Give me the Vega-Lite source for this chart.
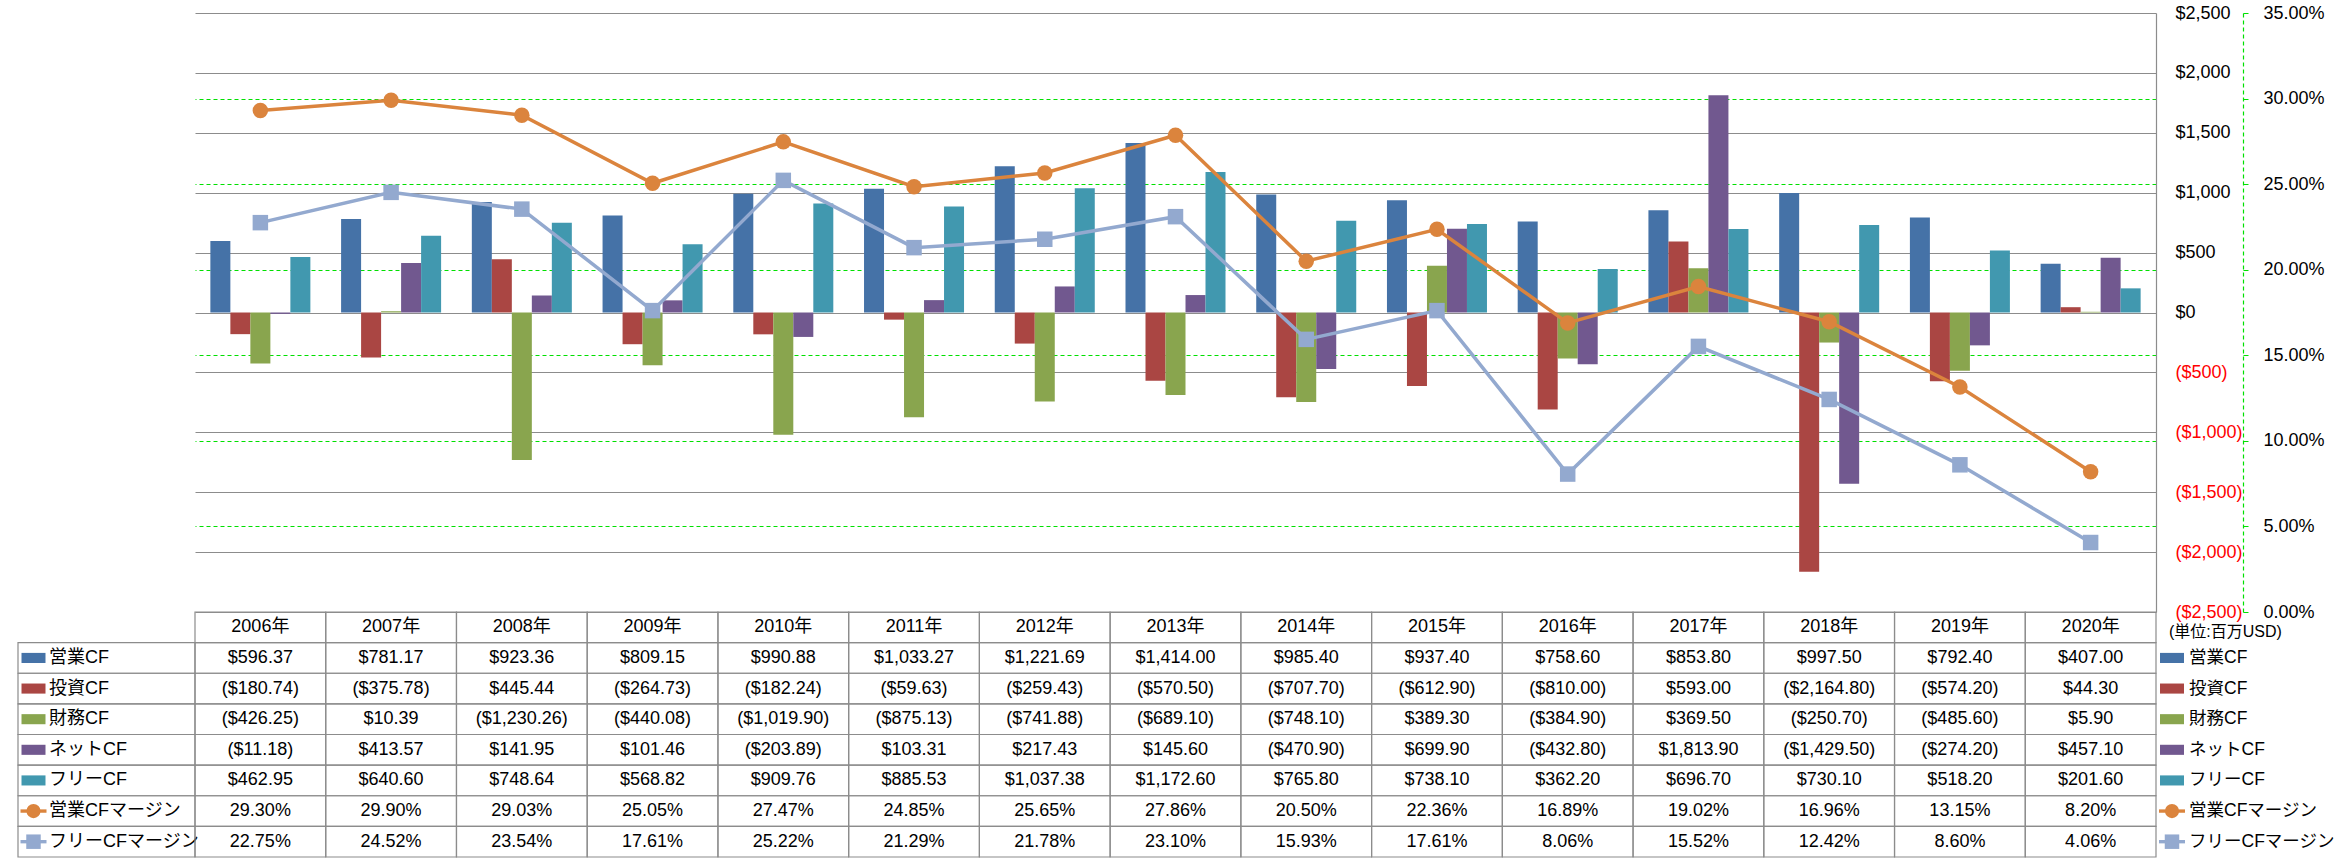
{
  "$schema": "https://vega.github.io/schema/vega-lite/v6.json",
  "padding": {"left": 17, "top": 4, "right": 0, "bottom": 0},
  "background": "white",
  "bounds": "flush",
  "spacing": 0,
  "columns": 3,
  "align": "each",
  "config": {
    "view": {"stroke": null},
    "font": "Liberation Sans, Noto Sans CJK JP",
    "text": {"font": "Liberation Sans, Noto Sans CJK JP"},
    "axis": {"labelFont": "Liberation Sans, Noto Sans CJK JP"}
  },
  "datasets": {
    "cf": [
      {"year": "2006年", "series": "営業CF", "value": 596.37},
      {"year": "2007年", "series": "営業CF", "value": 781.17},
      {"year": "2008年", "series": "営業CF", "value": 923.36},
      {"year": "2009年", "series": "営業CF", "value": 809.15},
      {"year": "2010年", "series": "営業CF", "value": 990.88},
      {"year": "2011年", "series": "営業CF", "value": 1033.27},
      {"year": "2012年", "series": "営業CF", "value": 1221.69},
      {"year": "2013年", "series": "営業CF", "value": 1414.00},
      {"year": "2014年", "series": "営業CF", "value": 985.40},
      {"year": "2015年", "series": "営業CF", "value": 937.40},
      {"year": "2016年", "series": "営業CF", "value": 758.60},
      {"year": "2017年", "series": "営業CF", "value": 853.80},
      {"year": "2018年", "series": "営業CF", "value": 997.50},
      {"year": "2019年", "series": "営業CF", "value": 792.40},
      {"year": "2020年", "series": "営業CF", "value": 407.00},
      {"year": "2006年", "series": "投資CF", "value": -180.74},
      {"year": "2007年", "series": "投資CF", "value": -375.78},
      {"year": "2008年", "series": "投資CF", "value": 445.44},
      {"year": "2009年", "series": "投資CF", "value": -264.73},
      {"year": "2010年", "series": "投資CF", "value": -182.24},
      {"year": "2011年", "series": "投資CF", "value": -59.63},
      {"year": "2012年", "series": "投資CF", "value": -259.43},
      {"year": "2013年", "series": "投資CF", "value": -570.50},
      {"year": "2014年", "series": "投資CF", "value": -707.70},
      {"year": "2015年", "series": "投資CF", "value": -612.90},
      {"year": "2016年", "series": "投資CF", "value": -810.00},
      {"year": "2017年", "series": "投資CF", "value": 593.00},
      {"year": "2018年", "series": "投資CF", "value": -2164.80},
      {"year": "2019年", "series": "投資CF", "value": -574.20},
      {"year": "2020年", "series": "投資CF", "value": 44.30},
      {"year": "2006年", "series": "財務CF", "value": -426.25},
      {"year": "2007年", "series": "財務CF", "value": 10.39},
      {"year": "2008年", "series": "財務CF", "value": -1230.26},
      {"year": "2009年", "series": "財務CF", "value": -440.08},
      {"year": "2010年", "series": "財務CF", "value": -1019.90},
      {"year": "2011年", "series": "財務CF", "value": -875.13},
      {"year": "2012年", "series": "財務CF", "value": -741.88},
      {"year": "2013年", "series": "財務CF", "value": -689.10},
      {"year": "2014年", "series": "財務CF", "value": -748.10},
      {"year": "2015年", "series": "財務CF", "value": 389.30},
      {"year": "2016年", "series": "財務CF", "value": -384.90},
      {"year": "2017年", "series": "財務CF", "value": 369.50},
      {"year": "2018年", "series": "財務CF", "value": -250.70},
      {"year": "2019年", "series": "財務CF", "value": -485.60},
      {"year": "2020年", "series": "財務CF", "value": 5.90},
      {"year": "2006年", "series": "ネットCF", "value": -11.18},
      {"year": "2007年", "series": "ネットCF", "value": 413.57},
      {"year": "2008年", "series": "ネットCF", "value": 141.95},
      {"year": "2009年", "series": "ネットCF", "value": 101.46},
      {"year": "2010年", "series": "ネットCF", "value": -203.89},
      {"year": "2011年", "series": "ネットCF", "value": 103.31},
      {"year": "2012年", "series": "ネットCF", "value": 217.43},
      {"year": "2013年", "series": "ネットCF", "value": 145.60},
      {"year": "2014年", "series": "ネットCF", "value": -470.90},
      {"year": "2015年", "series": "ネットCF", "value": 699.90},
      {"year": "2016年", "series": "ネットCF", "value": -432.80},
      {"year": "2017年", "series": "ネットCF", "value": 1813.90},
      {"year": "2018年", "series": "ネットCF", "value": -1429.50},
      {"year": "2019年", "series": "ネットCF", "value": -274.20},
      {"year": "2020年", "series": "ネットCF", "value": 457.10},
      {"year": "2006年", "series": "フリーCF", "value": 462.95},
      {"year": "2007年", "series": "フリーCF", "value": 640.60},
      {"year": "2008年", "series": "フリーCF", "value": 748.64},
      {"year": "2009年", "series": "フリーCF", "value": 568.82},
      {"year": "2010年", "series": "フリーCF", "value": 909.76},
      {"year": "2011年", "series": "フリーCF", "value": 885.53},
      {"year": "2012年", "series": "フリーCF", "value": 1037.38},
      {"year": "2013年", "series": "フリーCF", "value": 1172.60},
      {"year": "2014年", "series": "フリーCF", "value": 765.80},
      {"year": "2015年", "series": "フリーCF", "value": 738.10},
      {"year": "2016年", "series": "フリーCF", "value": 362.20},
      {"year": "2017年", "series": "フリーCF", "value": 696.70},
      {"year": "2018年", "series": "フリーCF", "value": 730.10},
      {"year": "2019年", "series": "フリーCF", "value": 518.20},
      {"year": "2020年", "series": "フリーCF", "value": 201.60},
      {"year": "2006年", "series": "営業CFマージン", "value": 0.2930},
      {"year": "2007年", "series": "営業CFマージン", "value": 0.2990},
      {"year": "2008年", "series": "営業CFマージン", "value": 0.2903},
      {"year": "2009年", "series": "営業CFマージン", "value": 0.2505},
      {"year": "2010年", "series": "営業CFマージン", "value": 0.2747},
      {"year": "2011年", "series": "営業CFマージン", "value": 0.2485},
      {"year": "2012年", "series": "営業CFマージン", "value": 0.2565},
      {"year": "2013年", "series": "営業CFマージン", "value": 0.2786},
      {"year": "2014年", "series": "営業CFマージン", "value": 0.2050},
      {"year": "2015年", "series": "営業CFマージン", "value": 0.2236},
      {"year": "2016年", "series": "営業CFマージン", "value": 0.1689},
      {"year": "2017年", "series": "営業CFマージン", "value": 0.1902},
      {"year": "2018年", "series": "営業CFマージン", "value": 0.1696},
      {"year": "2019年", "series": "営業CFマージン", "value": 0.1315},
      {"year": "2020年", "series": "営業CFマージン", "value": 0.0820},
      {"year": "2006年", "series": "フリーCFマージン", "value": 0.2275},
      {"year": "2007年", "series": "フリーCFマージン", "value": 0.2452},
      {"year": "2008年", "series": "フリーCFマージン", "value": 0.2354},
      {"year": "2009年", "series": "フリーCFマージン", "value": 0.1761},
      {"year": "2010年", "series": "フリーCFマージン", "value": 0.2522},
      {"year": "2011年", "series": "フリーCFマージン", "value": 0.2129},
      {"year": "2012年", "series": "フリーCFマージン", "value": 0.2178},
      {"year": "2013年", "series": "フリーCFマージン", "value": 0.2310},
      {"year": "2014年", "series": "フリーCFマージン", "value": 0.1593},
      {"year": "2015年", "series": "フリーCFマージン", "value": 0.1761},
      {"year": "2016年", "series": "フリーCFマージン", "value": 0.0806},
      {"year": "2017年", "series": "フリーCFマージン", "value": 0.1552},
      {"year": "2018年", "series": "フリーCFマージン", "value": 0.1242},
      {"year": "2019年", "series": "フリーCFマージン", "value": 0.0860},
      {"year": "2020年", "series": "フリーCFマージン", "value": 0.0406}
    ],
    "legend": [
      {"series": "営業CF", "kind": "bar"},
      {"series": "投資CF", "kind": "bar"},
      {"series": "財務CF", "kind": "bar"},
      {"series": "ネットCF", "kind": "bar"},
      {"series": "フリーCF", "kind": "bar"},
      {"series": "営業CFマージン", "kind": "line"},
      {"series": "フリーCFマージン", "kind": "line"}
    ]
  },
  "concat": [
    {
      "width": 177,
      "height": 599,
      "data": {"values": [{"t": ""}]},
      "mark": {"type": "text"},
      "encoding": {"text": {"field": "t"}}
    },
    {
      "width": 1961,
      "height": 599,
      "data": {"name": "cf"},
      "layer": [
        {
          "transform": [{"filter": "datum.series != '営業CFマージン' && datum.series != 'フリーCFマージン'"}],
          "mark": {"type": "bar"},
          "encoding": {
            "x": {"field": "year", "type": "nominal", "sort": null, "axis": null, "scale": {"paddingInner": 0.235, "paddingOuter": 0.1175}},
            "xOffset": {"field": "series", "type": "nominal", "sort": ["営業CF", "投資CF", "財務CF", "ネットCF", "フリーCF"], "scale": {"paddingInner": 0, "paddingOuter": 0}},
            "y": {
              "field": "value", "type": "quantitative",
              "scale": {"domain": [-2500, 2500], "nice": false, "zero": false},
              "axis": {
                "orient": "right", "title": null,
                "values": [-2500, -2000, -1500, -1000, -500, 0, 500, 1000, 1500, 2000, 2500],
                "format": "($,.0f",
                "grid": true, "gridColor": "#8C8C8C", "gridWidth": 1.2,
                "domain": true, "domainColor": "#8C8C8C", "domainWidth": 1.2,
                "ticks": false, "labelPadding": 19, "labelFontSize": 18,
                "labelOverlap": false, "labelFlush": false,
                "labelColor": {"condition": {"test": "datum.value < 0", "value": "#FF0000"}, "value": "#000000"}
              }
            },
            "color": {
              "field": "series", "type": "nominal", "legend": null,
              "scale": {
                "domain": ["営業CF", "投資CF", "財務CF", "ネットCF", "フリーCF", "営業CFマージン", "フリーCFマージン"],
                "range": ["#4572A7", "#AA4643", "#89A54E", "#71588F", "#4198AF", "#DB843D", "#93A9CF"]
              }
            }
          }
        },
        {
          "transform": [{"filter": "datum.series == '営業CFマージン' || datum.series == 'フリーCFマージン'"}],
          "encoding": {
            "x": {"field": "year", "type": "nominal", "sort": null, "axis": null},
            "y": {
              "field": "value", "type": "quantitative",
              "scale": {"domain": [0, 0.35], "nice": false},
              "axis": {
                "orient": "right", "title": null, "offset": 87,
                "values": [0, 0.05, 0.1, 0.15, 0.2, 0.25, 0.3, 0.35],
                "format": ".2%",
                "grid": true, "gridColor": "#00E000", "gridDash": [4, 3], "gridWidth": 1.2,
                "gridOpacity": {"condition": {"test": "datum.value < 0.01 || datum.value > 0.34", "value": 0}, "value": 1},
                "domain": true, "domainColor": "#00E000", "domainDash": [4, 3], "domainWidth": 1.2,
                "ticks": true, "tickColor": "#00E000", "tickSize": 5,
                "labelPadding": 15, "labelFontSize": 18, "labelColor": "#000000",
                "labelOverlap": false, "labelFlush": false
              }
            },
            "color": {
              "field": "series", "type": "nominal", "legend": null,
              "scale": {
                "domain": ["営業CF", "投資CF", "財務CF", "ネットCF", "フリーCF", "営業CFマージン", "フリーCFマージン"],
                "range": ["#4572A7", "#AA4643", "#89A54E", "#71588F", "#4198AF", "#DB843D", "#93A9CF"]
              }
            }
          },
          "layer": [
            {"mark": {"type": "line", "strokeWidth": 3.5}},
            {
              "mark": {"type": "point", "filled": true, "opacity": 1, "size": 240},
              "encoding": {
                "shape": {"field": "series", "type": "nominal", "legend": null, "scale": {"domain": ["営業CFマージン", "フリーCFマージン"], "range": ["circle", "square"]}}
              }
            }
          ]
        }
      ],
      "resolve": {"scale": {"y": "independent"}}
    },
    {
      "width": 170,
      "height": 599,
      "data": {"values": [{"t": ""}]},
      "mark": {"type": "text"},
      "encoding": {"text": {"field": "t"}}
    },
    {
      "width": 177,
      "height": 245,
      "data": {"name": "legend"},
      "encoding": {
        "y": {"field": "series", "type": "nominal", "axis": null, "scale": {"domain": ["header", "営業CF", "投資CF", "財務CF", "ネットCF", "フリーCF", "営業CFマージン", "フリーCFマージン"], "paddingInner": 0, "paddingOuter": 0}}
      },
      "layer": [
        {"mark": {"type": "rect", "filled": false, "stroke": "#8C8C8C", "strokeWidth": 1.2}},
        {
          "transform": [{"filter": "datum.kind == 'bar'"}],
          "mark": {"type": "point", "filled": true, "opacity": 1, "size": 576, "shape": "M-1,-0.42H1V0.42H-1Z", "xOffset": -73},
          "encoding": {"color": {"field": "series", "type": "nominal", "legend": null}}
        },
        {
          "transform": [{"filter": "datum.kind == 'line'"}],
          "mark": {"type": "point", "filled": true, "opacity": 1, "size": 676, "shape": "M-1,-0.13H1V0.13H-1Z", "xOffset": -73},
          "encoding": {"color": {"field": "series", "type": "nominal", "legend": null}}
        },
        {
          "transform": [{"filter": "datum.series == '営業CFマージン'"}],
          "mark": {"type": "point", "filled": true, "opacity": 1, "size": 200, "shape": "circle", "xOffset": -73},
          "encoding": {"color": {"field": "series", "type": "nominal", "legend": null}}
        },
        {
          "transform": [{"filter": "datum.series == 'フリーCFマージン'"}],
          "mark": {"type": "point", "filled": true, "opacity": 1, "size": 210, "shape": "square", "xOffset": -73},
          "encoding": {"color": {"field": "series", "type": "nominal", "legend": null}}
        },
        {
          "mark": {"type": "text", "align": "left", "baseline": "middle", "dx": -57.5, "fontSize": 18, "color": "#000000"},
          "encoding": {"text": {"field": "series"}}
        }
      ]
    },
    {
      "width": 1961,
      "height": 245,
      "data": {"name": "cf"},
      "layer": [
        {
          "mark": {"type": "rect", "filled": false, "stroke": "#8C8C8C", "strokeWidth": 1.2},
          "encoding": {
            "x": {"field": "year", "type": "nominal", "sort": null, "axis": null, "scale": {"paddingInner": 0, "paddingOuter": 0}},
            "y": {"field": "series", "type": "nominal", "axis": null, "scale": {"domain": ["header", "営業CF", "投資CF", "財務CF", "ネットCF", "フリーCF", "営業CFマージン", "フリーCFマージン"], "paddingInner": 0, "paddingOuter": 0}}
          }
        },
        {
          "transform": [{"filter": "datum.series == '営業CF'"}],
          "mark": {"type": "rect", "filled": false, "stroke": "#8C8C8C", "strokeWidth": 1.2},
          "encoding": {
            "x": {"field": "year", "type": "nominal", "sort": null, "axis": null},
            "y": {"datum": "header", "type": "nominal", "axis": null}
          }
        },
        {
          "transform": [{"filter": "datum.series == '営業CF'"}],
          "mark": {"type": "text", "fontSize": 18, "color": "#000000", "baseline": "middle"},
          "encoding": {
            "x": {"field": "year", "type": "nominal", "sort": null, "axis": null},
            "y": {"datum": "header", "type": "nominal", "axis": null},
            "text": {"field": "year"}
          }
        },
        {
          "transform": [{"filter": "datum.series != '営業CFマージン' && datum.series != 'フリーCFマージン'"}],
          "mark": {"type": "text", "fontSize": 18, "color": "#000000", "baseline": "middle"},
          "encoding": {
            "x": {"field": "year", "type": "nominal", "sort": null, "axis": null},
            "y": {"field": "series", "type": "nominal", "axis": null},
            "text": {"field": "value", "type": "quantitative", "format": "($,.2f"}
          }
        },
        {
          "transform": [{"filter": "datum.series == '営業CFマージン' || datum.series == 'フリーCFマージン'"}],
          "mark": {"type": "text", "fontSize": 18, "color": "#000000", "baseline": "middle"},
          "encoding": {
            "x": {"field": "year", "type": "nominal", "sort": null, "axis": null},
            "y": {"field": "series", "type": "nominal", "axis": null},
            "text": {"field": "value", "type": "quantitative", "format": ".2%"}
          }
        }
      ]
    },
    {
      "width": 170,
      "height": 245,
      "data": {"name": "legend"},
      "encoding": {
        "y": {"field": "series", "type": "nominal", "axis": null, "scale": {"domain": ["header", "営業CF", "投資CF", "財務CF", "ネットCF", "フリーCF", "営業CFマージン", "フリーCFマージン"], "paddingInner": 0, "paddingOuter": 0}}
      },
      "layer": [
        {
          "transform": [{"filter": "datum.kind == 'bar'"}],
          "mark": {"type": "point", "filled": true, "opacity": 1, "size": 576, "shape": "M-1,-0.42H1V0.42H-1Z", "xOffset": -69},
          "encoding": {"color": {"field": "series", "type": "nominal", "legend": null}}
        },
        {
          "transform": [{"filter": "datum.kind == 'line'"}],
          "mark": {"type": "point", "filled": true, "opacity": 1, "size": 676, "shape": "M-1,-0.13H1V0.13H-1Z", "xOffset": -69},
          "encoding": {"color": {"field": "series", "type": "nominal", "legend": null}}
        },
        {
          "transform": [{"filter": "datum.series == '営業CFマージン'"}],
          "mark": {"type": "point", "filled": true, "opacity": 1, "size": 200, "shape": "circle", "xOffset": -69},
          "encoding": {"color": {"field": "series", "type": "nominal", "legend": null}}
        },
        {
          "transform": [{"filter": "datum.series == 'フリーCFマージン'"}],
          "mark": {"type": "point", "filled": true, "opacity": 1, "size": 210, "shape": "square", "xOffset": -69},
          "encoding": {"color": {"field": "series", "type": "nominal", "legend": null}}
        },
        {
          "mark": {"type": "text", "align": "left", "baseline": "middle", "dx": -52, "fontSize": 17.5, "color": "#000000"},
          "encoding": {"text": {"field": "series"}}
        },
        {
          "data": {"values": [{"t": "(単位:百万USD)"}]},
          "mark": {"type": "text", "align": "left", "baseline": "middle", "dx": -72, "dy": 5, "fontSize": 16, "color": "#000000"},
          "encoding": {"text": {"field": "t"}, "y": {"datum": "header", "type": "nominal"}}
        }
      ]
    }
  ]
}
